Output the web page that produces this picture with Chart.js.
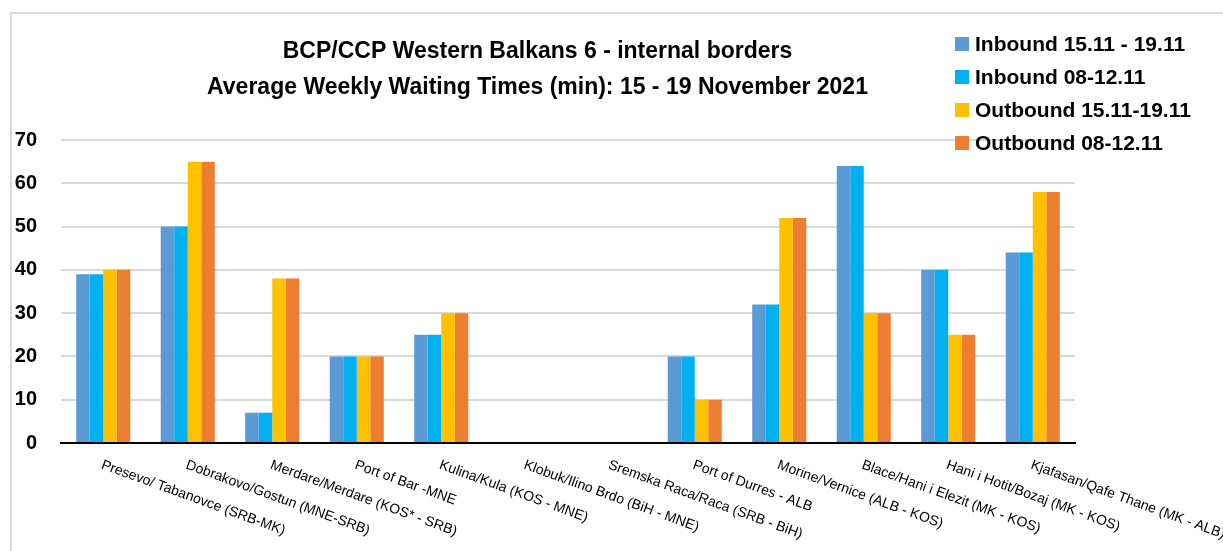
<!DOCTYPE html>
<html>
<head>
<meta charset="utf-8">
<script src="https://cdn.jsdelivr.net/npm/chart.js@4"></script>
<style>
  html, body { margin: 0; padding: 0; background: #fff; }
  #wrap { position: relative; width: 1223px; height: 551px; }
  #frame { position: absolute; left: 10px; top: 12px; right: 0; bottom: 0;
           border-left: 2px solid #d9d9d9; border-top: 2px solid #d9d9d9; }
  #chart { position: absolute; left: 0; top: 0; }
</style>
</head>
<body>
<div id="wrap">
  <div id="frame"></div>
  <canvas id="chart" width="1223" height="551"></canvas>
</div>
<script>
// crossing points
const categories = [
    'Presevo/ Tabanovce (SRB-MK)',
    'Dobrakovo/Gostun (MNE-SRB)',
    'Merdare/Merdare (KOS* - SRB)',
    'Port of Bar -MNE',
    'Kulina/Kula (KOS - MNE)',
    'Klobuk/Ilino Brdo (BiH - MNE)',
    'Sremska Raca/Raca (SRB - BiH)',
    'Port of Durres - ALB',
    'Morine/Vernice (ALB - KOS)',
    'Blace/Hani i Elezit (MK - KOS)',
    'Hani i Hotit/Bozaj (MK - KOS)',
    'Kjafasan/Qafe Thane (MK - ALB)'
];

// waiting times in minutes
const inboundThisWeek  = [39, 50, 7, 20, 25, 0, 0, 20, 32, 64, 40, 44];
const inboundLastWeek  = [39, 50, 7, 20, 25, 0, 0, 20, 32, 64, 40, 44];
const outboundThisWeek = [40, 65, 38, 20, 30, 0, 0, 10, 52, 30, 25, 58];
const outboundLastWeek = [40, 65, 38, 20, 30, 0, 0, 10, 52, 30, 25, 58];

const seriesLabels = ['Inbound 15.11 - 19.11', 'Inbound 08-12.11', 'Outbound 15.11-19.11', 'Outbound 08-12.11'];
const seriesColors = ['#5B9BD5', '#00B0F0', '#FFC000', '#ED7D31'];

const titleLines = [
    'BCP/CCP Western Balkans 6 - internal borders',
    'Average Weekly Waiting Times (min): 15 - 19 November 2021'
];

const FONT = "'Liberation Sans', Arial, sans-serif";

// rotated category labels (clockwise, anchored at the start of the text)
const slantedLabels = {
    id: 'slantedLabels',
    afterDraw(chart) {
        const ctx = chart.ctx;
        const xScale = chart.scales.x;
        ctx.save();
        ctx.font = '14px ' + FONT;
        ctx.fillStyle = '#000';
        ctx.textAlign = 'left';
        ctx.textBaseline = 'top';
        chart.data.labels.forEach((label, i) => {
            const x = xScale.getPixelForTick(i);
            ctx.save();
            ctx.translate(x + 1, xScale.top + 15);
            ctx.rotate(20 * Math.PI / 180);
            ctx.fillText(label, 0, 0);
            ctx.restore();
        });
        ctx.restore();
    }
};

// legend in the top right corner
const sideLegend = {
    id: 'sideLegend',
    afterDraw(chart) {
        const ctx = chart.ctx;
        ctx.save();
        ctx.font = 'bold 21px ' + FONT;
        ctx.textAlign = 'left';
        ctx.textBaseline = 'middle';
        chart.data.datasets.forEach((ds, i) => {
            const y = 44 + i * 33;
            ctx.fillStyle = ds.backgroundColor;
            ctx.fillRect(955, y - 7, 14, 14);
            ctx.fillStyle = '#000';
            ctx.fillText(ds.label, 975, y + 1);
        });
        ctx.restore();
    }
};

const seriesData = [inboundThisWeek, inboundLastWeek, outboundThisWeek, outboundLastWeek];

new Chart(document.getElementById('chart'), {
    type: 'bar',
    data: {
        labels: categories,
        datasets: seriesData.map((values, i) => ({
            label: seriesLabels[i],
            data: values,
            backgroundColor: seriesColors[i],
            borderWidth: 0,
            barPercentage: 1.0,
            categoryPercentage: 0.64
        }))
    },
    options: {
        responsive: false,
        animation: false,
        layout: { padding: { left: 0, right: 148, top: 0, bottom: 0 } },
        scales: {
            x: {
                ticks: { display: false },
                grid: { display: false },
                border: { color: '#000', width: 2 },
                afterFit: function(scale) { scale.height = 108; }
            },
            y: {
                min: 0,
                max: 70,
                ticks: {
                    stepSize: 10,
                    padding: 24,
                    color: '#000',
                    font: { family: FONT, size: 20, weight: 'bold' }
                },
                grid: { color: '#d9d9d9', lineWidth: 2, drawTicks: false },
                border: { display: false },
                afterFit: function(scale) { scale.width = 61; }
            }
        },
        plugins: {
            legend: { display: false },
            tooltip: { enabled: false },
            title: {
                display: true,
                text: titleLines,
                color: '#000',
                font: { family: FONT, size: 23, weight: 'bold', lineHeight: 1.565 },
                padding: { top: 34, bottom: 34 }
            }
        }
    },
    plugins: [slantedLabels, sideLegend]
});
</script>
</body>
</html>
